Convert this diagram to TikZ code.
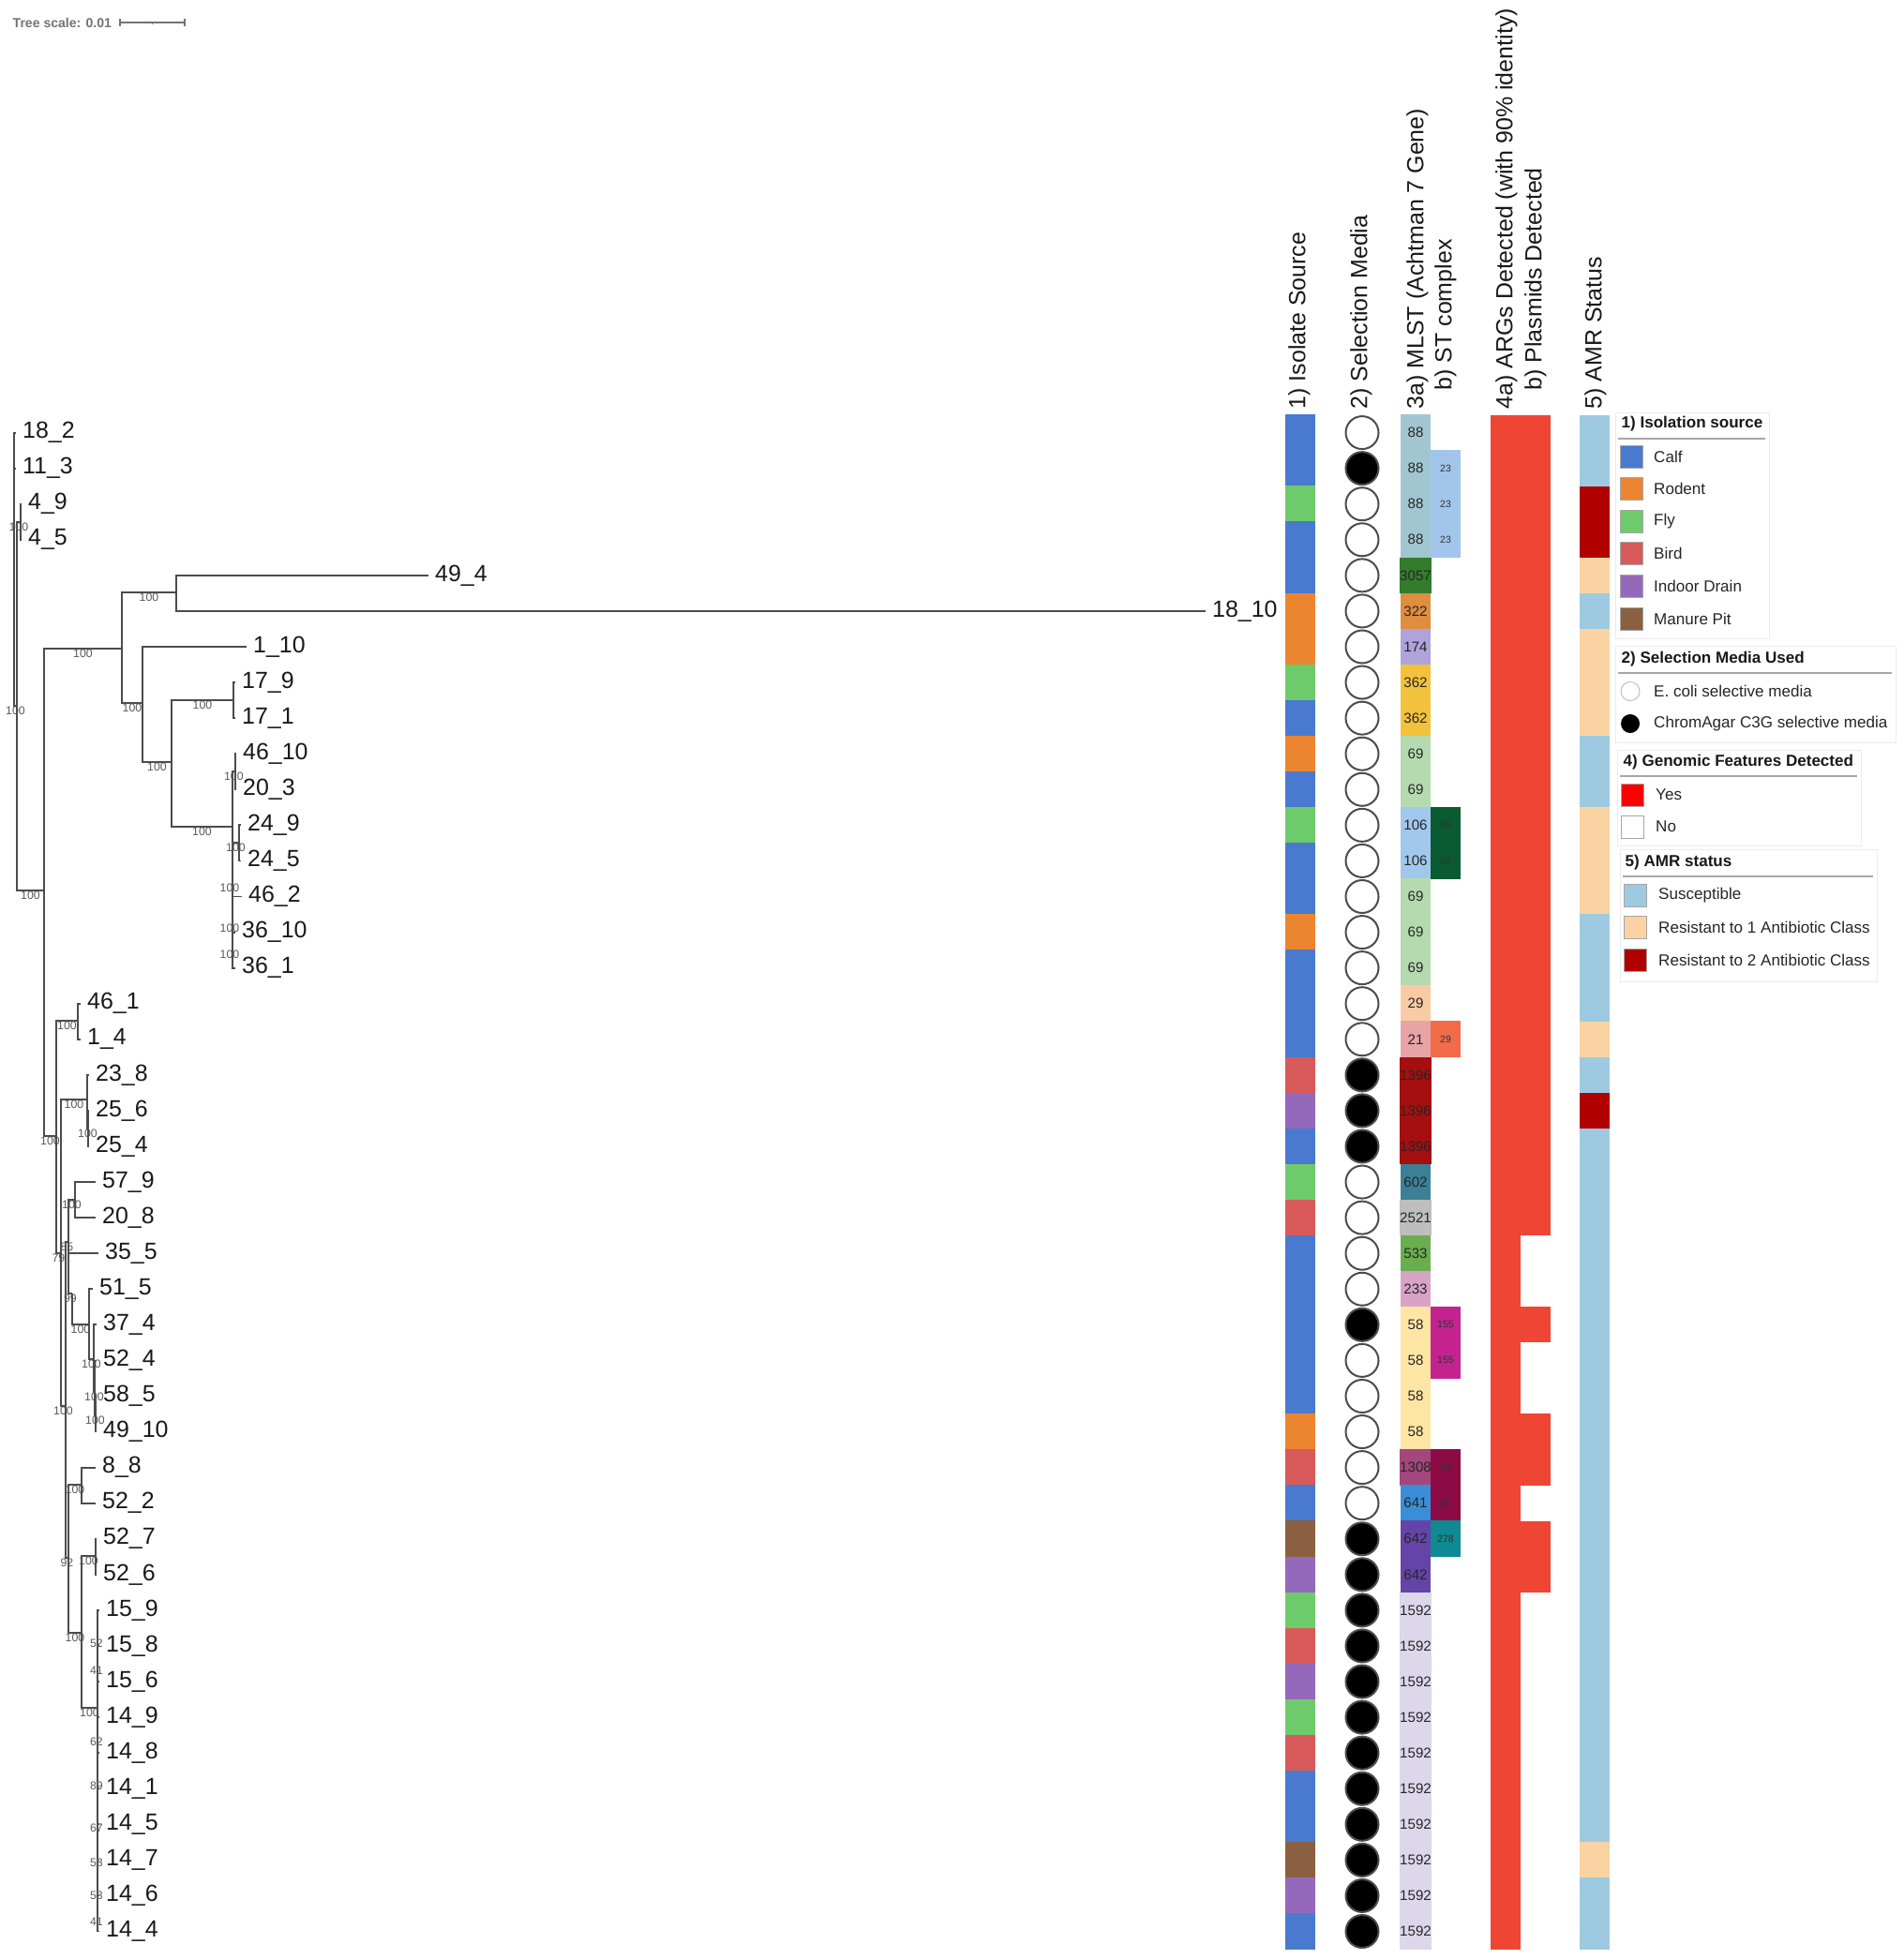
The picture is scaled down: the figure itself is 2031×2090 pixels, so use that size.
\documentclass[tikz,border=0pt]{standalone}
\usepackage{fontspec}
\setmainfont{Liberation Sans}
\usetikzlibrary{positioning}
\definecolor{srcC}{HTML}{4A7ACF}
\definecolor{srcR}{HTML}{EC8530}
\definecolor{srcF}{HTML}{6ECB6B}
\definecolor{srcB}{HTML}{D85A5A}
\definecolor{srcD}{HTML}{9468BA}
\definecolor{srcM}{HTML}{8B6040}
\definecolor{mlst88}{HTML}{A2C6D1}
\definecolor{mlst3057}{HTML}{347B2E}
\definecolor{mlst322}{HTML}{DE8E3E}
\definecolor{mlst174}{HTML}{B0A2DA}
\definecolor{mlst362}{HTML}{F2C23D}
\definecolor{mlst69}{HTML}{B5DAAF}
\definecolor{mlst106}{HTML}{A1C8EC}
\definecolor{mlst29}{HTML}{F9CBA5}
\definecolor{mlst21}{HTML}{E8A3A5}
\definecolor{mlst1396}{HTML}{A50F0F}
\definecolor{mlst602}{HTML}{3B8096}
\definecolor{mlst2521}{HTML}{BEBEBE}
\definecolor{mlst533}{HTML}{6AAE4F}
\definecolor{mlst233}{HTML}{D9A3C6}
\definecolor{mlst58}{HTML}{FDE5A3}
\definecolor{mlst1308}{HTML}{A3477D}
\definecolor{mlst641}{HTML}{3A8ED8}
\definecolor{mlst642}{HTML}{6444A8}
\definecolor{mlst1592}{HTML}{DCD7EB}
\definecolor{stc23}{HTML}{A2C5EB}
\definecolor{stc69}{HTML}{0A5B31}
\definecolor{stc29}{HTML}{F26B4B}
\definecolor{stc155}{HTML}{C4228F}
\definecolor{stc86}{HTML}{8C0B45}
\definecolor{stc278}{HTML}{0F8A92}
\definecolor{argred}{HTML}{EF4535}
\definecolor{yesred}{HTML}{FF0000}
\definecolor{amrS}{HTML}{9ECAE1}
\definecolor{amrA}{HTML}{FBD3A2}
\definecolor{amrB}{HTML}{B00000}

\begin{document}
\begin{tikzpicture}[x=0.1mm, y=-0.1mm,
  branch/.style={draw=black!70, line width=0.18mm},
  boot/.style={font=\fontsize{3.5}{4}\selectfont, text=black!65, inner sep=0pt, anchor=north},
  bootc/.style={boot, anchor=center},
  leaf/.style={anchor=west, inner xsep=0.65mm, inner ysep=0pt, font=\fontsize{7.1}{8}\selectfont, text=black!90},
  head/.style={rotate=90, anchor=west, inner sep=0pt, font=\fontsize{7.1}{8}\selectfont, text=black!90},
  cell/.style={rectangle, inner sep=0pt, minimum width=3.2mm, minimum height=3.86mm},
  mlstcell/.style={cell, font=\fontsize{4.3}{5}\selectfont, text=black!85},
  stccell/.style={cell, font=\fontsize{3}{4}\selectfont, text=black!80},
  sel/.style={circle, draw=black!70, line width=0.2mm, minimum size=3.5mm, inner sep=0pt},
  lgbox/.style={draw=black!8, line width=0.1mm},
  lgrule/.style={draw=black!35, line width=0.2mm},
  lgtitle/.style={anchor=west, inner sep=0pt, font=\bfseries\fontsize{4.85}{6}\selectfont, text=black!90},
  lgtext/.style={inner sep=0pt, font=\fontsize{4.85}{6}\selectfont, text=black!85},
  swatch/.style={rectangle, draw=black!35, line width=0.1mm, minimum size=2.4mm, inner sep=0pt},
  lgdot/.style={circle, minimum size=2mm, inner sep=0pt, line width=0.1mm}]
\fill[white] (0,0) rectangle (2031,2090);
\useasboundingbox (0,0) rectangle (2031,2090);

\node (tsc) at (13,24) [anchor=west, inner sep=0pt, font=\bfseries\fontsize{4}{5}\selectfont, text=black!55] {Tree scale: 0.01};
\coordinate (sb1) at (128,24);
\coordinate (sbm) at (162.5,24);
\coordinate (sb2) at (197,24);
\draw[black!55, line width=0.15mm] (sb1) -- (sb2);
\draw[black!55, line width=0.15mm] (sb1) ++(0,-4) -- ++(0,8) (sb2) ++(0,-4) -- ++(0,8) (sbm) -- ++(0,2);

\coordinate (R) at (15,600);
\coordinate (A) at (18,753);
\coordinate (B) at (21.7,556.7);
\coordinate (C) at (47,950);
\coordinate (D) at (130,692);
\coordinate (F) at (188,632);
\coordinate (G) at (152,750);
\coordinate (H) at (183,813);
\coordinate (I) at (249,747);
\coordinate (J) at (248,882);
\coordinate (K) at (250.7,823);
\coordinate (M) at (255,899);
\coordinate (E) at (60,1212);
\coordinate (P46) at (83,1089);
\coordinate (F2) at (65,1337);
\coordinate (Q1) at (93,1173);
\coordinate (Q2) at (94,1204);
\coordinate (H2) at (70,1500);
\coordinate (S1) at (73,1325);
\coordinate (P57) at (80,1280);
\coordinate (S1c) at (77,1380);
\coordinate (S1d) at (95,1413);
\coordinate (T) at (100,1450);
\coordinate (T2) at (101,1485);
\coordinate (T3) at (102,1510);
\coordinate (S2) at (73,1662);
\coordinate (P88) at (87,1584);
\coordinate (S3) at (87,1742);
\coordinate (P52) at (102,1660);
\coordinate (U) at (104,1822);

\node (l1) at (17,461.6) [leaf] {18\_2};
\node (l2) at (17,499.6) [leaf] {11\_3};
\node (l3) at (23,537.7) [leaf] {4\_9};
\node (l4) at (23,575.8) [leaf] {4\_5};
\node (l5) at (457,613.9) [leaf] {49\_4};
\node (l6) at (1286,651.9) [leaf] {18\_10};
\node (l7) at (263,690.0) [leaf] {1\_10};
\node (l8) at (251,728.1) [leaf] {17\_9};
\node (l9) at (251,766.1) [leaf] {17\_1};
\node (l10) at (252,804.2) [leaf] {46\_10};
\node (l11) at (252,842.3) [leaf] {20\_3};
\node (l12) at (257,880.3) [leaf] {24\_9};
\node (l13) at (257,918.4) [leaf] {24\_5};
\node (l14) at (258,956.5) [leaf] {46\_2};
\node (l15) at (251,994.6) [leaf] {36\_10};
\node (l16) at (251,1032.6) [leaf] {36\_1};
\node (l17) at (86,1070.7) [leaf] {46\_1};
\node (l18) at (86,1108.8) [leaf] {1\_4};
\node (l19) at (95,1146.8) [leaf] {23\_8};
\node (l20) at (95,1184.9) [leaf] {25\_6};
\node (l21) at (95,1223.0) [leaf] {25\_4};
\node (l22) at (102,1261.0) [leaf] {57\_9};
\node (l23) at (102,1299.1) [leaf] {20\_8};
\node (l24) at (105,1337.2) [leaf] {35\_5};
\node (l25) at (99,1375.3) [leaf] {51\_5};
\node (l26) at (103,1413.3) [leaf] {37\_4};
\node (l27) at (103,1451.4) [leaf] {52\_4};
\node (l28) at (103,1489.5) [leaf] {58\_5};
\node (l29) at (103,1527.5) [leaf] {49\_10};
\node (l30) at (102,1565.6) [leaf] {8\_8};
\node (l31) at (102,1603.7) [leaf] {52\_2};
\node (l32) at (103,1641.7) [leaf] {52\_7};
\node (l33) at (103,1679.8) [leaf] {52\_6};
\node (l34) at (106,1717.9) [leaf] {15\_9};
\node (l35) at (106,1756.0) [leaf] {15\_8};
\node (l36) at (106,1794.0) [leaf] {15\_6};
\node (l37) at (106,1832.1) [leaf] {14\_9};
\node (l38) at (106,1870.2) [leaf] {14\_8};
\node (l39) at (106,1908.2) [leaf] {14\_1};
\node (l40) at (106,1946.3) [leaf] {14\_5};
\node (l41) at (106,1984.4) [leaf] {14\_7};
\node (l42) at (106,2022.4) [leaf] {14\_6};
\node (l43) at (106,2060.5) [leaf] {14\_4};

\foreach \p/\c/\b in {R/A/100, A/B/100, A/C/100, C/D/100, C/E/100, D/F/100, D/G/100, G/H/100,
  H/I/100, H/J/100, J/K/100, J/M/100, E/P46/100, E/F2/79, F2/Q1/100, F2/H2/100, Q1/Q2/100,
  H2/S1/85, H2/S2/92, S1/P57/100, S1/S1c/99, S1c/S1d/100, S1d/T/100, T/T2/100, T2/T3/100,
  S2/P88/100, S2/S3/100, S3/P52/100, S3/U/100}
  \draw[branch] (\p) |- node[boot, pos=.75] {\b} (\c);
\foreach \p/\c in {R/l1, R/l2, B/l3, B/l4, F/l5, F/l6, G/l7, I/l8, I/l9, K/l10, K/l11, M/l12, M/l13,
  J/l14, J/l15, J/l16, P46/l17, P46/l18, Q1/l19, Q2/l20, Q2/l21, P57/l22, P57/l23, S1/l24,
  S1d/l25, T/l26, T2/l27, T3/l28, T3/l29, P88/l30, P88/l31, P52/l32, P52/l33}
  \draw[branch] (\p) |- (\c.west);
\foreach \c in {34,...,43}
  \draw[branch] (U) |- (l\c.west);
\foreach \x/\y/\b in {245/947/100, 245/990/100, 245/1018/100, 103/1753/52, 103/1782/41, 103/1858/62,
  103/1905/89, 103/1950/67, 103/1987/58, 103/2022/53, 103/2050/41}
  \node (bt\y) at (\x,\y) [bootc] {\b};

\node (hsrc) at (1386,437) [head] {1) Isolate Source};
\node (hsel) at (1452,437) [head] {2) Selection Media};
\node (hmlst) at (1512,437) [head] {3a) MLST (Achtman 7 Gene)};
\node (hstc) at (1542,417) [head] {b) ST complex};
\node (harg) at (1607,437) [head] {4a) ARGs Detected (with 90\% identity)};
\node (hpla) at (1638,417) [head] {b) Plasmids Detected};
\node (hamr) at (1702,437) [head] {5) AMR Status};

\foreach \s [count=\i] in {C,C,F,C,C,R,R,F,C,R,C,F,C,C,R,C,C,C,B,D,C,F,B,C,C,C,C,C,R,B,C,M,D,F,B,D,F,B,C,C,M,D,C}
  \node (src\i) at (1387,{423.5+38.07*\i}) [cell, fill=src\s] {};

\foreach \f [count=\i] in {white,black,white,white,white,white,white,white,white,white,white,white,white,white,
  white,white,white,white,black,black,black,white,white,white,white,black,white,white,white,white,white,
  black,black,black,black,black,black,black,black,black,black,black,black}
  \node (sel\i) at (1453,{423.5+38.07*\i}) [sel, fill=\f] {};

\foreach \v [count=\i] in {88,88,88,88,3057,322,174,362,362,69,69,106,106,69,69,69,29,21,1396,1396,1396,
  602,2521,533,233,58,58,58,58,1308,641,642,642,1592,1592,1592,1592,1592,1592,1592,1592,1592,1592}
  \node (mlst\i) at (1510,{423.5+38.07*\i}) [mlstcell, fill=mlst\v] {\v};

\foreach \i/\v in {2/23, 3/23, 4/23, 12/69, 13/69, 18/29, 26/155, 27/155, 30/86, 31/86, 32/278}
  \node (stc\i) at (1542,{423.5+38.07*\i}) [stccell, fill=stc\v] {\v};

\fill[argred] (1590,442.5) rectangle (1622,2079.5);
\foreach \a/\b in {1/23, 26/26, 29/30, 32/33}
  \fill[argred] (1621.5,{404.43+38.07*\a}) rectangle (1654,{442.5+38.07*\b});

\foreach \a/\b/\c in {1/2/amrS, 3/4/amrB, 5/5/amrA, 6/6/amrS, 7/9/amrA, 10/11/amrS, 12/14/amrA,
  15/17/amrS, 18/18/amrA, 19/19/amrS, 20/20/amrB, 21/40/amrS, 41/41/amrA, 42/43/amrS}
  \fill[fill=\c] (1685,{404.43+38.07*\a}) rectangle (1717,{442.5+38.07*\b});

\draw[lgbox] (1723,440) rectangle (1887,681);
\node (lgt1) at (1729,452) [lgtitle] {1) Isolation source};
\draw[lgrule] (1726,468) -- (1883,468);
\foreach \s/\t/\y in {C/Calf/487, R/Rodent/521.5, F/Fly/556, B/Bird/590.5, D/Indoor Drain/625, M/Manure Pit/660} {
  \node (sw\s) at (1740,\y) [swatch, fill=src\s] {};
  \node (lb\s) [lgtext, right=1.1mm of sw\s] {\t};
}

\draw[lgbox] (1723,689) rectangle (2022,792);
\node (lgt2) at (1729,703) [lgtitle] {2) Selection Media Used};
\draw[lgrule] (1726,718) -- (2018,718);
\node (dotE) at (1739,737.5) [lgdot, draw=black!25, fill=white] {};
\node (lbE) [lgtext, right=1.4mm of dotE] {E. coli selective media};
\node (dotC) at (1739,772) [lgdot, fill=black] {};
\node (lbCh) [lgtext, right=1.4mm of dotC] {ChromAgar C3G selective media};

\draw[lgbox] (1725,800) rectangle (1985,902);
\node (lgt4) at (1731,813) [lgtitle] {4) Genomic Features Detected};
\draw[lgrule] (1728,828) -- (1981,828);
\node (swY) at (1741,848) [swatch, fill=yesred] {};
\node (lbY) [lgtext, right=1.2mm of swY] {Yes};
\node (swN) at (1741,882) [swatch, fill=white] {};
\node (lbN) [lgtext, right=1.2mm of swN] {No};

\draw[lgbox] (1728,906) rectangle (2002,1047);
\node (lgt5) at (1733,920) [lgtitle] {5) AMR status};
\draw[lgrule] (1731,935) -- (1998,935);
\foreach \c/\t/\y in {amrS/Susceptible/955, amrA/Resistant to 1 Antibiotic Class/989.5, amrB/Resistant to 2 Antibiotic Class/1024} {
  \node (sw\c) at (1744,\y) [swatch, fill=\c] {};
  \node (lb\c) [lgtext, right=1.2mm of sw\c] {\t};
}
\end{tikzpicture}
\end{document}
